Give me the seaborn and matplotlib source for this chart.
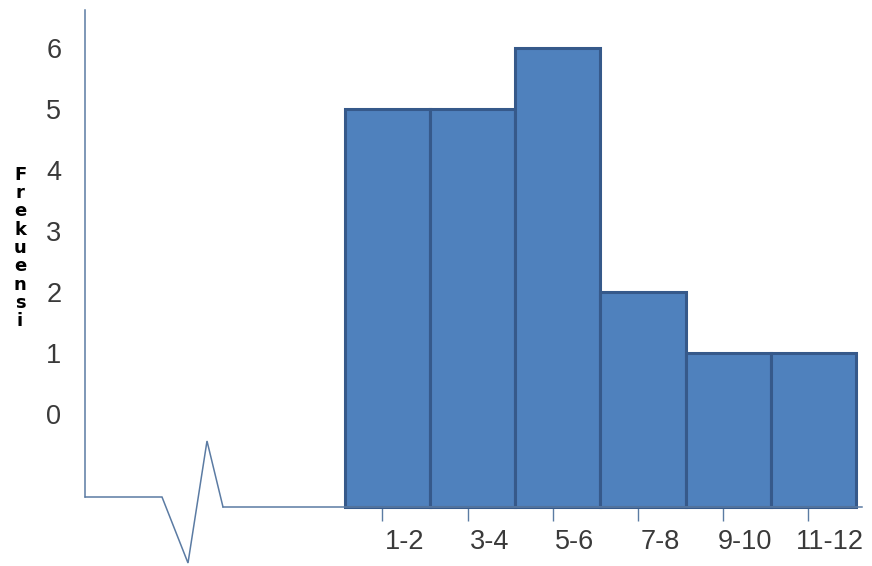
import matplotlib
matplotlib.use("Agg")
import matplotlib.pyplot as plt
import matplotlib.transforms as mtransforms
import seaborn as sns
import pandas as pd

# Class intervals and their frequencies
categories = ["1-2", "3-4", "5-6", "7-8", "9-10", "11-12"]
frequencies = [5, 5, 6, 2, 1, 1]
y_ticks = [0, 1, 2, 3, 4, 5, 6]

# the bars stand on a broken axis below zero; each top sits at its frequency
base = -1.52
df = pd.DataFrame({"kelas": categories,
                   "tinggi": [f - base for f in frequencies]})

sns.set_theme(style="white")
plt.rcParams["font.family"] = ["Liberation Sans", "DejaVu Sans"]

W, H = 872, 566
fig = plt.figure(figsize=(W / 100, H / 100), dpi=100)
ax = fig.add_axes([0, 0, 1, 1])

axis_color = "#5b7ba3"

sns.barplot(data=df, x="kelas", y="tinggi", ax=ax, width=1.0,
            color="#4f81bd", saturation=1, edgecolor="#36598a",
            linewidth=2.2, bottom=base)

ax.set_xlim(-4.548, 5.687)
ax.set_ylim(-2.484, 6.795)
ax.set_xlabel("")
ax.set_ylabel("")

# spines: left axis and right part of the baseline
for s in ("top", "right"):
    ax.spines[s].set_visible(False)
ax.spines["left"].set_position(("data", -3.55))
ax.spines["left"].set_bounds(-1.35, 6.63)
ax.spines["bottom"].set_position(("data", base))
ax.spines["bottom"].set_bounds(-1.93, 5.57)
for s in ("left", "bottom"):
    ax.spines[s].set_color(axis_color)
    ax.spines[s].set_linewidth(1.1)

# y ticks: labels only
ax.set_yticks(y_ticks)
ax.set_yticklabels([str(v) for v in y_ticks])
ax.tick_params(axis="y", length=0, pad=17, labelsize=19.5, labelcolor="#3a3a3a")

# x ticks hang below the baseline, labels sit to the right of them
ax.set_xticks([i - 0.06 for i in range(len(categories))])
ax.set_xticklabels(categories)
ax.tick_params(axis="x", direction="out", length=10, width=1.0,
               color=axis_color, pad=6, labelsize=19.5, labelcolor="#3a3a3a",
               bottom=True)
shift = mtransforms.ScaledTranslation(22 / 100, 0, fig.dpi_scale_trans)
for lab in ax.get_xticklabels():
    lab.set_transform(lab.get_transform() + shift)

# left part of the baseline with the zigzag break
pts = [(85, 497), (162, 497), (188, 563), (207, 441), (223, 507)]
ax.plot([p[0] / W for p in pts], [1 - p[1] / H for p in pts],
        transform=ax.transAxes, color=axis_color, lw=1.1,
        solid_joinstyle="miter", clip_on=False)

# stacked vertical axis title
fig.text(20 / W, 1 - 248 / H, "\n".join("Frekuensi"), ha="center", va="center",
         fontsize=13, fontweight="heavy", family="DejaVu Sans",
         linespacing=1.02, color="black")

ax.patch.set_alpha(0)
fig.savefig("out.png", dpi=100, facecolor="white")
